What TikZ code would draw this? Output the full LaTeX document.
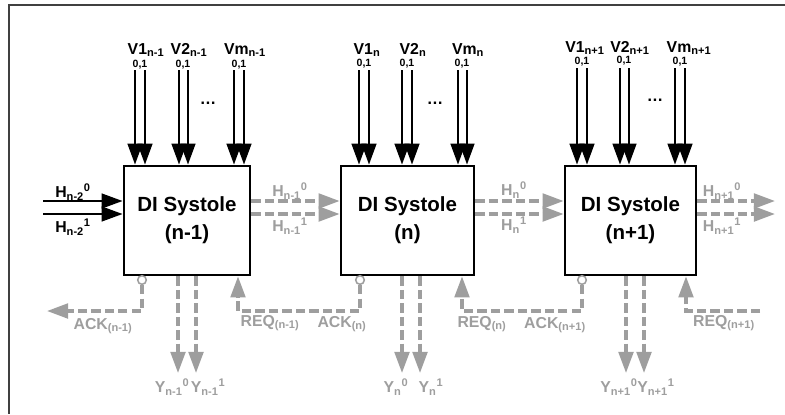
\documentclass[tikz,border=0pt]{standalone}
\usepackage{fontspec}
\setmainfont{Liberation Sans}
\usetikzlibrary{arrows.meta}
\pgfdeclarelayer{edgelayer}
\pgfdeclarelayer{nodelayer}
\pgfsetlayers{edgelayer,nodelayer,main}
\definecolor{sigray}{RGB}{158,158,158}
\tikzstyle{systole}=[rectangle, draw=black, fill=white, line width=2.3pt, minimum height=3.27cm, align=center, font=\fontsize{17.5}{24}\selectfont\bfseries]
\tikzstyle{vedge}=[draw=black, line width=2.2pt, -{Triangle[length=18pt,width=12.5pt]}]
\tikzstyle{grayedge}=[draw=sigray, line width=2.8pt, dash pattern=on 8pt off 3.5pt, -{Triangle[length=18pt,width=12.5pt]}]
\tikzstyle{port}=[circle, draw=sigray, fill=white, line width=1.3pt, minimum size=0.26cm, inner sep=0pt]
\tikzstyle{vlabel}=[inner sep=0pt, font=\fontsize{13.5}{15}\selectfont\bfseries]
\tikzstyle{bitlabel}=[inner sep=0pt, font=\fontsize{9}{10}\selectfont\bfseries]
\tikzstyle{glabel}=[inner sep=0pt, text=sigray, font=\fontsize{13.5}{16}\selectfont\bfseries]
\tikzstyle{ellip}=[inner sep=0pt, font=\fontsize{14}{16}\selectfont\bfseries]
\tikzstyle{frame}=[draw=black!75, line width=1.6pt]

\begin{document}
\begin{tikzpicture}[x=0.03cm, y=-0.03cm]
	\useasboundingbox (0,0) rectangle (785,414);
	\draw [style=frame] (785,5) -- (9,5) -- (9,414);
	\begin{pgfonlayer}{nodelayer}
		% systoles
		\node [style=systole, minimum width=3.78cm] (b1) at (187,220.5) {DI Systole\\(n-1)};
		\node [style=systole, minimum width=3.99cm] (b2) at (407.5,220.5) {DI Systole\\(n)};
		\node [style=systole, minimum width=3.93cm] (b3) at (630.5,220.5) {DI Systole\\(n+1)};
		% acknowledge ports
		\node [style=port] (a1) at (142,280) {};
		\node [style=port] (a2) at (360,280) {};
		\node [style=port] (a3) at (582,280) {};
		% vertical inputs
		\node [style=vlabel] (l1) at (146,50) {V1\textsubscript{n-1}};
		\node [style=vlabel] (l2) at (189,50) {V2\textsubscript{n-1}};
		\node [style=vlabel] (l3) at (245,50) {Vm\textsubscript{n-1}};
		\node [style=vlabel] (l4) at (367,50) {V1\textsubscript{n}};
		\node [style=vlabel] (l5) at (413,50) {V2\textsubscript{n}};
		\node [style=vlabel] (l6) at (468,50) {Vm\textsubscript{n}};
		\node [style=vlabel] (l7) at (585,48) {V1\textsubscript{n+1}};
		\node [style=vlabel] (l8) at (630,48) {V2\textsubscript{n+1}};
		\node [style=vlabel] (l9) at (689,48) {Vm\textsubscript{n+1}};
		\node [style=bitlabel] (c1) at (140,65) {0,1};
		\node [style=bitlabel] (c2) at (183,65) {0,1};
		\node [style=bitlabel] (c3) at (239,65) {0,1};
		\node [style=bitlabel] (c4) at (364,64) {0,1};
		\node [style=bitlabel] (c5) at (407,64) {0,1};
		\node [style=bitlabel] (c6) at (462,64) {0,1};
		\node [style=bitlabel] (c7) at (582,62) {0,1};
		\node [style=bitlabel] (c8) at (624,61) {0,1};
		\node [style=bitlabel] (c9) at (680,62) {0,1};
		\node [style=ellip] (d1) at (208,103) {\ldots};
		\node [style=ellip] (d2) at (435,103) {\ldots};
		\node [style=ellip] (d3) at (655,100) {\ldots};
		% horizontal labels
		\node [style=vlabel] (h1) at (73,192) {H\textsubscript{n-2}\textsuperscript{0}};
		\node [style=vlabel] (h2) at (73,227) {H\textsubscript{n-2}\textsuperscript{1}};
		\node [style=glabel] (h3) at (290,191) {H\textsubscript{n-1}\textsuperscript{0}};
		\node [style=glabel] (h4) at (290,226) {H\textsubscript{n-1}\textsuperscript{1}};
		\node [style=glabel] (h5) at (514,190) {H\textsubscript{n}\textsuperscript{0}};
		\node [style=glabel] (h6) at (514,225) {H\textsubscript{n}\textsuperscript{1}};
		\node [style=glabel] (h7) at (722,191) {H\textsubscript{n+1}\textsuperscript{0}};
		\node [style=glabel] (h8) at (722,226) {H\textsubscript{n+1}\textsuperscript{1}};
		% handshake labels
		\node [style=glabel] (k1) at (103,326) {ACK\textsubscript{(n-1)}};
		\node [style=glabel] (k2) at (342,324) {ACK\textsubscript{(n)}};
		\node [style=glabel] (k3) at (555,325) {ACK\textsubscript{(n+1)}};
		\node [style=glabel] (q1) at (270,323) {REQ\textsubscript{(n-1)}};
		\node [style=glabel] (q2) at (482,324) {REQ\textsubscript{(n)}};
		\node [style=glabel] (q3) at (724,323) {REQ\textsubscript{(n+1)}};
		% outputs
		\node [style=glabel] (y1) at (172,387) {Y\textsubscript{n-1}\textsuperscript{0}};
		\node [style=glabel] (y2) at (208,387) {Y\textsubscript{n-1}\textsuperscript{1}};
		\node [style=glabel] (y3) at (396,387) {Y\textsubscript{n}\textsuperscript{0}};
		\node [style=glabel] (y4) at (431,387) {Y\textsubscript{n}\textsuperscript{1}};
		\node [style=glabel] (y5) at (619,387) {Y\textsubscript{n+1}\textsuperscript{0}};
		\node [style=glabel] (y6) at (656,387) {Y\textsubscript{n+1}\textsuperscript{1}};
	\end{pgfonlayer}
	\coordinate (row0) at (0,201);
	\coordinate (row1) at (0,214);
	\coordinate (hin0) at (43,201);
	\coordinate (hin1) at (43,214);
	\coordinate (hout0) at (775,201);
	\coordinate (hout1) at (775,214);
	\coordinate (o1) at (178,373);
	\coordinate (o2) at (196,373);
	\coordinate (o3) at (402,373);
	\coordinate (o4) at (420,373);
	\coordinate (o5) at (626,373);
	\coordinate (o6) at (644,373);
	\coordinate (ack0) at (47,311);
	\coordinate (r1) at (238,311);
	\coordinate (r2) at (462,311);
	\coordinate (r3) at (686,311);
	\coordinate (r4) at (760,311);
	\begin{pgfonlayer}{edgelayer}
		% vertical inputs
		\draw [style=vedge] (135,70) -- (135,70 |- b1.north);
		\draw [style=vedge] (145,70) -- (145,70 |- b1.north);
		\draw [style=vedge] (179,70) -- (179,70 |- b1.north);
		\draw [style=vedge] (188,70) -- (188,70 |- b1.north);
		\draw [style=vedge] (234,70) -- (234,70 |- b1.north);
		\draw [style=vedge] (244,70) -- (244,70 |- b1.north);
		\draw [style=vedge] (359,70) -- (359,70 |- b2.north);
		\draw [style=vedge] (369,70) -- (369,70 |- b2.north);
		\draw [style=vedge] (402,70) -- (402,70 |- b2.north);
		\draw [style=vedge] (412,70) -- (412,70 |- b2.north);
		\draw [style=vedge] (458,70) -- (458,70 |- b2.north);
		\draw [style=vedge] (467,70) -- (467,70 |- b2.north);
		\draw [style=vedge] (577,68) -- (577,68 |- b3.north);
		\draw [style=vedge] (587,68) -- (587,68 |- b3.north);
		\draw [style=vedge] (620,68) -- (620,68 |- b3.north);
		\draw [style=vedge] (629,68) -- (629,68 |- b3.north);
		\draw [style=vedge] (675,68) -- (675,68 |- b3.north);
		\draw [style=vedge] (685,68) -- (685,68 |- b3.north);
		% horizontal chain
		\draw [style=vedge] (hin0) -- (hin0 -| b1.west);
		\draw [style=vedge] (hin1) -- (hin1 -| b1.west);
		\draw [style=grayedge] (b1.east |- row0) -- (b2.west |- row0);
		\draw [style=grayedge] (b1.east |- row1) -- (b2.west |- row1);
		\draw [style=grayedge] (b2.east |- row0) -- (b3.west |- row0);
		\draw [style=grayedge] (b2.east |- row1) -- (b3.west |- row1);
		\draw [style=grayedge] (b3.east |- row0) -- (hout0);
		\draw [style=grayedge] (b3.east |- row1) -- (hout1);
		% outputs
		\draw [style=grayedge] (o1 |- b1.south) -- (o1);
		\draw [style=grayedge] (o2 |- b1.south) -- (o2);
		\draw [style=grayedge] (o3 |- b2.south) -- (o3);
		\draw [style=grayedge] (o4 |- b2.south) -- (o4);
		\draw [style=grayedge] (o5 |- b3.south) -- (o5);
		\draw [style=grayedge] (o6 |- b3.south) -- (o6);
		% handshake
		\draw [style=grayedge] (a1.south) |- (ack0);
		\draw [style=grayedge] (a2.south) |- (r1) -- (r1 |- b1.south);
		\draw [style=grayedge] (a3.south) |- (r2) -- (r2 |- b2.south);
		\draw [style=grayedge] (r4) -- (r3) -- (r3 |- b3.south);
	\end{pgfonlayer}
\end{tikzpicture}
\end{document}
